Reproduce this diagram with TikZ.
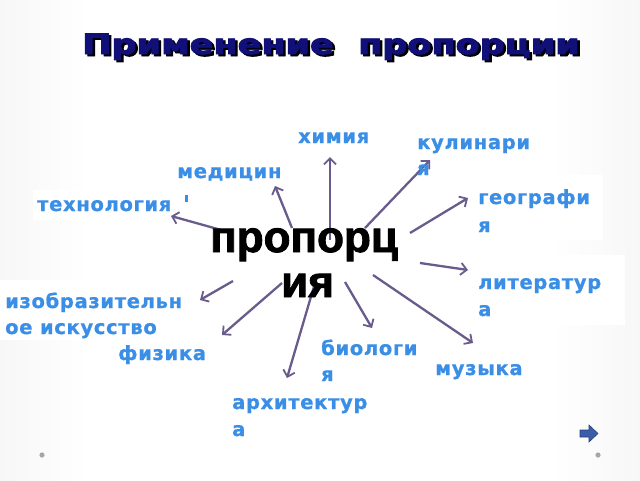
\documentclass[tikz,border=0pt]{standalone}
\usepackage{fontspec}
\setmainfont{DejaVu Sans}
\newfontfamily\labfont{DejaVu Sans Bold}[LetterSpace=3.5,FakeBold=0.8]
\newfontfamily\cenfont{Liberation Sans Bold}[FakeBold=2]
\newfontfamily\titfont{DejaVu Sans Bold}[FakeBold=3]
\usetikzlibrary{arrows.meta}
\definecolor{lblue}{RGB}{58,142,230}
\definecolor{arrc}{RGB}{105,92,140}
\definecolor{navy}{RGB}{16,16,120}
\definecolor{bggray}{RGB}{205,205,205}
\definecolor{bglight}{RGB}{236,236,236}
\definecolor{arrowblue}{RGB}{60,92,172}
\pgfdeclarehorizontalshading{bgsh}{100bp}{color(0bp)=(bggray); color(15bp)=(bglight); color(32bp)=(white); color(68bp)=(white); color(85bp)=(bglight); color(100bp)=(bggray)}
\newcommand{\shadowtext}[1]{\rlap{\kern2pt\raisebox{-2pt}{\color{black}#1}}#1}
\begin{document}
\begin{tikzpicture}[x=1pt,y=-1pt,
  lab/.style={font=\labfont\fontsize{19.5}{22}\selectfont, text=lblue, anchor=base west, inner sep=0pt},
  cen/.style={font=\cenfont\fontsize{44}{50}\selectfont, text=black, anchor=base west, inner sep=0pt},
  conn/.style={draw=arrc, line width=2.3pt, -{Straight Barb[length=6pt,width=12pt,line width=1.8pt]}},
  wbox/.style={fill=white, draw=none}]
\useasboundingbox (0,0) rectangle (640,480);
\shade[shading=bgsh] (0,0) rectangle (640,480);
% white label boxes
\fill[wbox] (33,190) rectangle (178,220);
\fill[wbox] (0,280) rectangle (222,340);
\fill[wbox] (410,125) rectangle (547,178);
\fill[wbox] (472,175) rectangle (603,240);
\fill[wbox] (472,255) rectangle (625,325);
\fill[wbox] (433,353) rectangle (528,383);
% title
\node[anchor=base west, inner sep=0pt, text=navy] (title) at (82,54)
  {\scalebox{1.25}[1]{\titfont\fontsize{28}{32}\selectfont\shadowtext{Применение\ \ пропорции}}};
% coordinates
\coordinate (s1) at (330,240); \coordinate (t1) at (330,157);
\coordinate (s2) at (292,228); \coordinate (t2) at (275,186);
\coordinate (s3) at (232,233); \coordinate (t3) at (171,216);
\coordinate (s4) at (365,228); \coordinate (t4) at (430,160);
\coordinate (s5) at (410,233); \coordinate (t5) at (468,198);
\coordinate (s6) at (420,263); \coordinate (t6) at (468,270);
\coordinate (s7) at (373,275); \coordinate (t7) at (473,343);
\coordinate (s8) at (233,281); \coordinate (t8) at (200,300);
\coordinate (s9) at (282,283); \coordinate (t9) at (222,335);
\coordinate (s10) at (315,283); \coordinate (t10) at (287,378);
\coordinate (s11) at (345,282); \coordinate (t11) at (372,328);
% arrows
\foreach \i in {1,...,11} \draw[conn] (s\i) -- (t\i);
% centre text
\node[cen] (cen1) at (210,252) {пропорц};
\node[cen] (cen2) at (281,297) {ия};
% labels
\node[lab] (him) at (298,143) {химия};
\node[lab] (kul) at (417,149) {кулинари};
\node[lab] (kul2) at (417,175) {я};
\node[lab] (med) at (177,178) {медицин};
\fill[lblue] (185,195) rectangle (187.5,202);
\node[lab] (teh) at (37,211) {технология};
\node[lab] (geo) at (478,204) {географи};
\node[lab] (geo2) at (478,232) {я};
\node[lab] (lit) at (478,289) {литератур};
\node[lab] (lit2) at (478,316) {а};
\node[lab] (izo) at (5,308) {изобразительн};
\node[lab] (izo2) at (5,334) {ое искусство};
\node[lab] (fiz) at (118,360) {физика};
\node[lab] (bio) at (321,355) {биологи};
\node[lab] (bio2) at (321,381) {я};
\node[lab] (muz) at (435,375) {музыка};
\node[lab] (arh) at (232,409) {архитектур};
\node[lab] (arh2) at (232,436) {а};
% decorations
\fill[gray!70] (42,455) circle (2.6);
\fill[gray!70] (598,455) circle (2.6);
\filldraw[fill=arrowblue, draw=arrowblue!70!black, line width=0.6pt]
  (580,430) -- (589,430) -- (589,425) -- (598,433.5) -- (589,442) -- (589,437) -- (580,437) -- cycle;
\end{tikzpicture}
\end{document}
